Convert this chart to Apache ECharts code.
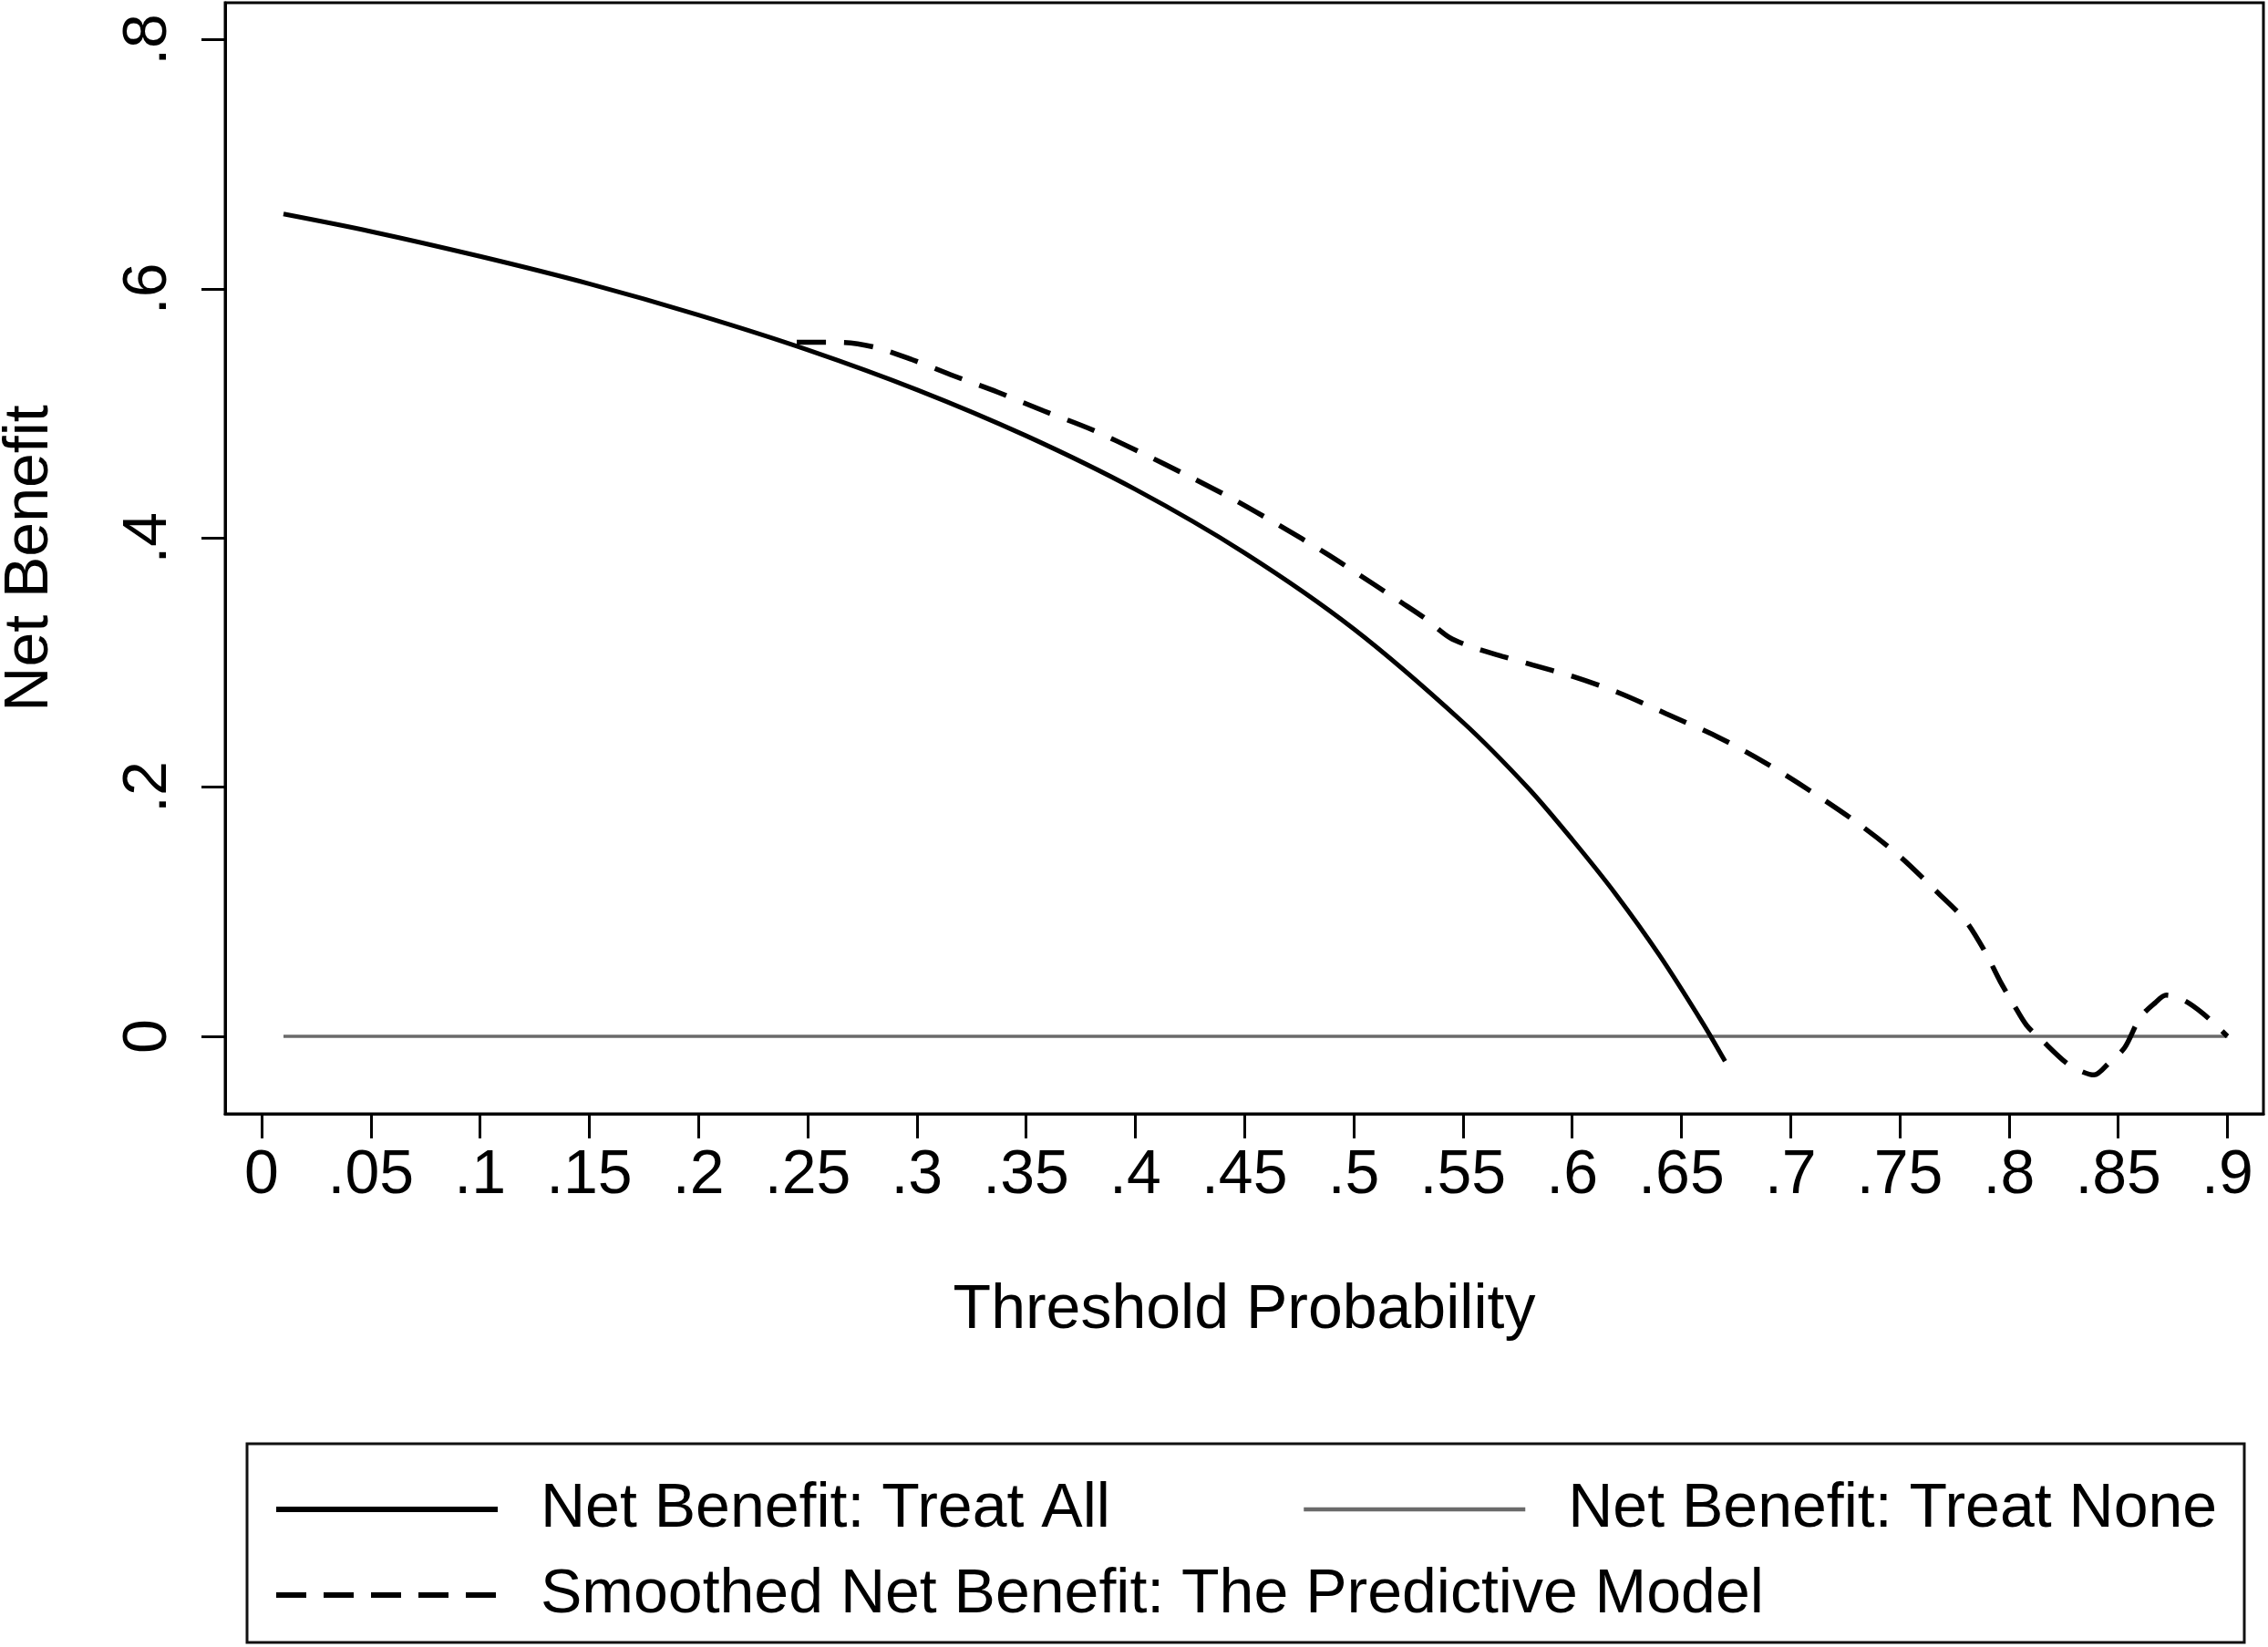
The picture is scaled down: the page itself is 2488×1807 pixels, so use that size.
<!DOCTYPE html>
<html>
<head>
    <meta charset="UTF-8" />
    <title>Decision curve</title>
    <script type="text/javascript" src="https://cdn.jsdelivr.net/npm/echarts@6.0.0/dist/echarts.min.js"></script>
    <style>
        html, body { margin: 0; padding: 0; background: #fff; }
    </style>
</head>
<body>

<div id="main" style="width: 2488px;height: 1807px;"></div>

<script>
    // values
    var allX = [0.01, 0.05, 0.10, 0.15, 0.20, 0.25, 0.30, 0.35, 0.40, 0.45, 0.50, 0.55, 0.58, 0.60, 0.62, 0.64, 0.66, 0.67];
    var allY = [0.660, 0.646, 0.626, 0.604, 0.579, 0.551, 0.519, 0.482, 0.439, 0.388, 0.327, 0.252, 0.199, 0.158, 0.114, 0.065, 0.010, -0.020];

    var noneX = [0.01, 0.90];
    var noneY = [0, 0];

    var modelX = [0.245, 0.265, 0.281, 0.298, 0.317, 0.337, 0.358, 0.380, 0.402, 0.424, 0.445, 0.465, 0.487, 0.509, 0.522,
        0.533, 0.544, 0.555, 0.568, 0.582, 0.600, 0.621, 0.643, 0.667, 0.688, 0.709, 0.730, 0.749, 0.767, 0.780,
        0.789, 0.796, 0.802, 0.808, 0.815, 0.826, 0.833, 0.839, 0.846, 0.853, 0.860, 0.867, 0.872, 0.880, 0.889, 0.900];
    var modelY = [0.557, 0.557, 0.553, 0.543, 0.530, 0.517, 0.502, 0.487, 0.469, 0.450, 0.431, 0.411, 0.388, 0.363, 0.348,
        0.335, 0.320, 0.312, 0.305, 0.298, 0.289, 0.276, 0.259, 0.240, 0.220, 0.197, 0.172, 0.146, 0.116, 0.093,
        0.068, 0.044, 0.026, 0.009, -0.003, -0.021, -0.028, -0.031, -0.021, -0.009, 0.015, 0.027, 0.033, 0.029, 0.018, 0.000];

    var xTickValues = [0, 0.05, 0.1, 0.15, 0.2, 0.25, 0.3, 0.35, 0.4, 0.45, 0.5, 0.55, 0.6, 0.65, 0.7, 0.75, 0.8, 0.85, 0.9];
    var xTickLabels = ['0', '.05', '.1', '.15', '.2', '.25', '.3', '.35', '.4', '.45', '.5', '.55', '.6', '.65', '.7', '.75', '.8', '.85', '.9'];
    var yTickValues = [0, 0.2, 0.4, 0.6, 0.8];
    var yTickLabels = ['0', '.2', '.4', '.6', '.8'];

    var seriesNames = ['Net Benefit: Treat All', 'Net Benefit: Treat None', 'Smoothed Net Benefit: The Predictive Model'];

    function pairs(xs, ys) {
        return xs.map(function (x, i) { return [x, ys[i]]; });
    }
    function lookup(values, labels) {
        return function (v) {
            for (var i = 0; i < values.length; i++) {
                if (Math.abs(values[i] - v) < 1e-6) return labels[i];
            }
            return '';
        };
    }

    var font = 'Liberation Sans, Arial, Helvetica, sans-serif';

    // one legend per entry, so each sits where Stata put it
    function legendAt(name, left, top, lineStyle) {
        return {
            data: [name],
            left: left,
            top: top,
            orient: 'horizontal',
            padding: 0,
            itemWidth: 243,
            itemHeight: 2,
            selectedMode: false,
            itemStyle: { opacity: 0 },
            lineStyle: lineStyle,
            textStyle: {
                fontFamily: font,
                fontSize: 68,
                color: '#000',
                lineHeight: 68,
                padding: [0, 0, 0, 42]
            }
        };
    }

    var mychart = echarts.init(document.getElementById('main'));

    var option = {
        animation: false,
        backgroundColor: '#fff',
        grid: {
            left: 247,
            top: 3,
            width: 2236,
            height: 1219,
            show: true,
            borderColor: '#000',
            borderWidth: 3,
            containLabel: false,
            outerBoundsMode: 'none'
        },
        xAxis: {
            type: 'value',
            min: -0.0167,
            max: 0.9165,
            name: 'Threshold Probability',
            nameLocation: 'middle',
            nameGap: 182,
            nameTextStyle: { fontFamily: font, fontSize: 68, color: '#000' },
            axisLine: { show: true, onZero: false, lineStyle: { color: '#000', width: 3 } },
            axisTick: { show: true, inside: false, length: 27, customValues: xTickValues, lineStyle: { color: '#000', width: 3 } },
            axisLabel: {
                customValues: xTickValues,
                formatter: lookup(xTickValues, xTickLabels),
                fontFamily: font, fontSize: 68, color: '#000', margin: 34
            },
            splitLine: { show: false }
        },
        yAxis: {
            type: 'value',
            min: -0.0622,
            max: 0.8296,
            name: 'Net Benefit',
            nameLocation: 'middle',
            nameGap: 180,
            nameTextStyle: { fontFamily: font, fontSize: 68, color: '#000' },
            axisLine: { show: true, onZero: false, lineStyle: { color: '#000', width: 3 } },
            axisTick: { show: true, inside: false, length: 26, customValues: yTickValues, lineStyle: { color: '#000', width: 3 } },
            axisLabel: {
                customValues: yTickValues,
                formatter: lookup(yTickValues, yTickLabels),
                rotate: 90,
                fontFamily: font, fontSize: 68, color: '#000', margin: 50
            },
            splitLine: { show: false }
        },
        legend: [
            legendAt(seriesNames[0], 300, 1622, { width: 6, color: '#000' }),
            legendAt(seriesNames[1], 1428, 1622, { width: 4.5, color: '#6a6a6a' }),
            legendAt(seriesNames[2], 300, 1716, { width: 6, color: '#000', type: [33, 19] })
        ],
        graphic: [{
            type: 'rect',
            shape: { x: 271, y: 1584, width: 2191, height: 218 },
            style: { fill: 'none', stroke: '#111', lineWidth: 3 },
            silent: true
        }],
        series: [
            {
                name: seriesNames[1],
                type: 'line',
                data: pairs(noneX, noneY),
                symbol: 'none',
                lineStyle: { color: '#6a6a6a', width: 3.5 },
                itemStyle: { color: '#6a6a6a' },
                z: 2
            },
            {
                name: seriesNames[0],
                type: 'line',
                data: pairs(allX, allY),
                symbol: 'none',
                smooth: 0.3,
                lineStyle: { color: '#000', width: 5 },
                itemStyle: { color: '#000' },
                z: 3
            },
            {
                name: seriesNames[2],
                type: 'line',
                data: pairs(modelX, modelY),
                symbol: 'none',
                smooth: 0.3,
                lineStyle: { color: '#000', width: 5.5, type: [32, 20] },
                itemStyle: { color: '#000' },
                z: 4
            }
        ]
    };

    mychart.setOption(option);
</script>

</body>
</html>
